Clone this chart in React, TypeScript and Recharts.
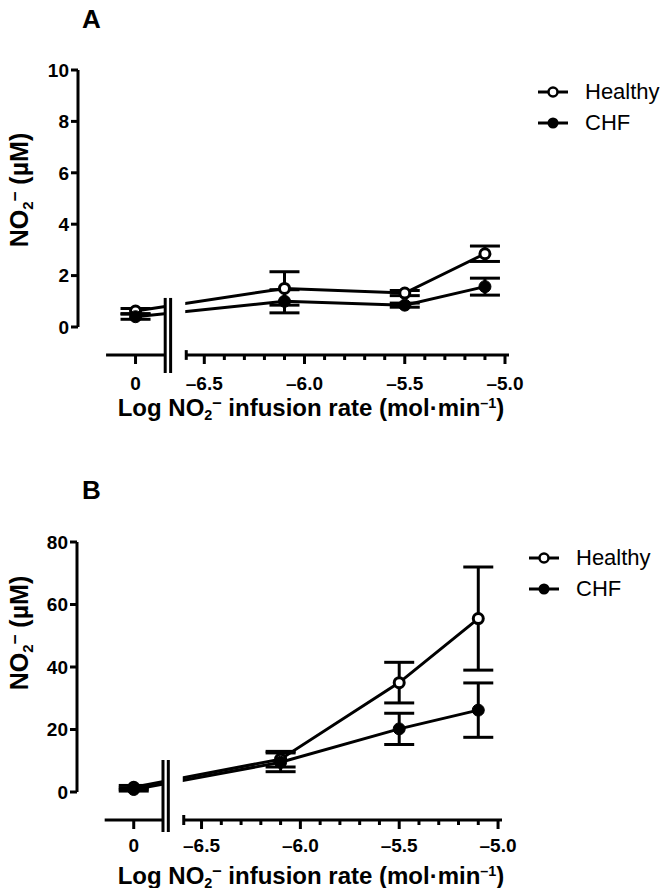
import React from "react";
import { LineChart, Line, XAxis, YAxis, ErrorBar, ReferenceLine, ReferenceArea } from "recharts";

// log NO2- infusion rate (0 = baseline, before infusion)
const DOSES = [0, -6.1, -5.5, -5.1];

const A_HEALTHY = [0.62, 1.5, 1.32, 2.85];
const A_HEALTHY_SEM = [0.1, 0.65, 0.1, 0.3];
const A_CHF = [0.4, 1.0, 0.85, 1.57];
const A_CHF_SEM = [0.1, 0.45, 0.08, 0.33];

const B_HEALTHY = [1.5, 10.5, 35, 55.5];
const B_HEALTHY_SEM = [0.6, 2.5, 6.5, 16.5];
const B_CHF = [0.8, 9.5, 20.2, 26.2];
const B_CHF_SEM = [0.5, 3, 5, 8.7];

const A_Y_TICKS = [0, 2, 4, 6, 8, 10];
const B_Y_TICKS = [0, 20, 40, 60, 80];
const X_MAJOR = [-6.5, -6.0, -5.5, -5.0];
const X_MAJOR_LABELS = ["–6.5", "–6.0", "–5.5", "–5.0"];
const ZERO_LABEL = "0";
const SERIES = ["Healthy", "CHF"];

// broken axis layout (in x-axis units)
const X_MIN = -7.13;
const X_MAX = -4.98;
const ZERO_POS = -6.843;
const LEFT_SEG = [-6.99, -6.695];
const BREAK_X = [-6.695, -6.668];
const RIGHT_START = -6.59;
const MINOR = Array.from({ length: 16 }, (_, i) => +(-6.5 + i * 0.1).toFixed(1));

const FONT = '"Liberation Sans", Arial, Helvetica, sans-serif';
const SW = 3;

const toRows = (h: number[], hs: number[], c: number[], cs: number[]) =>
  DOSES.map((d, i) => ({
    pos: d === 0 ? ZERO_POS : d,
    healthy: h[i],
    healthyErr: hs[i],
    chf: c[i],
    chfErr: cs[i],
  }));

const OpenDot = (p: any) =>
  p.cx == null ? null : <circle key={p.index} cx={p.cx} cy={p.cy} r={5} fill="#fff" stroke="#000" strokeWidth={SW} />;
const FilledDot = (p: any) =>
  p.cx == null ? null : <circle key={p.index} cx={p.cx} cy={p.cy} r={6} fill="#000" stroke="#000" strokeWidth={1} />;

const XTick = (p: any) => {
  const v = p.payload.value;
  const isZero = v === ZERO_POS;
  const mi = X_MAJOR.findIndex(m => Math.abs(m - v) < 1e-6);
  const major = isZero || mi >= 0;
  const label = isZero ? ZERO_LABEL : mi >= 0 ? X_MAJOR_LABELS[mi] : null;
  return (
    <g>
      <line x1={p.x} x2={p.x} y1={p.y} y2={p.y + (major ? 9 : 5)} stroke="#000" strokeWidth={SW} />
      {label && (
        <text x={p.x} y={p.y + p.labelDy} textAnchor="middle" fontFamily={FONT} fontWeight="bold" fontSize={19} fill="#000">
          {label}
        </text>
      )}
    </g>
  );
};

const NO2 = () => (
  <span>
    NO<span style={{ fontSize: "0.6em", verticalAlign: "-0.3em" }}>2</span>
    <span style={{ fontSize: "0.7em", verticalAlign: "0.5em" }}>–</span>
  </span>
);

interface PanelProps {
  top: number;
  height: number;
  letter: string;
  letterTop: number;
  rows: any[];
  yMin: number;
  yMax: number;
  yTicks: number[];
  marginTop: number;
  marginLeft: number;
  marginRight: number;
  marginBottom: number;
  breakY: [number, number];
  capY: [number, number];
  labelDy: number;
  yTitleCenter: number;
  xTitleTop: number;
  legendLeft: number;
  legendTop: number;
}

function Panel(props: PanelProps) {
  const { rows, yMin, yMax } = props;
  const ref = { stroke: "#000", strokeWidth: SW, ifOverflow: "visible" as const };
  return (
    <div style={{ position: "absolute", left: 0, top: props.top, width: 670, height: props.height, fontFamily: FONT, color: "#000" }}>
      <LineChart
        width={670}
        height={props.height}
        data={rows}
        margin={{ top: props.marginTop, left: props.marginLeft, right: props.marginRight, bottom: props.marginBottom }}
      >
        <XAxis
          type="number"
          dataKey="pos"
          domain={[X_MIN, X_MAX]}
          allowDataOverflow
          ticks={[ZERO_POS, ...MINOR]}
          interval={0}
          axisLine={false}
          tickLine={false}
          tickSize={0}
          tickMargin={0}
          height={40}
          tick={(p: any) => <XTick {...p} labelDy={props.labelDy} />}
        />
        <YAxis
          type="number"
          domain={[yMin, yMax]}
          allowDataOverflow
          ticks={props.yTicks}
          interval={0}
          width={50}
          axisLine={false}
          tickLine={{ stroke: "#000", strokeWidth: SW }}
          tickSize={7}
          tickMargin={2}
          tick={{ fill: "#000", fontSize: 19, fontWeight: "bold", fontFamily: FONT }}
        />
        <Line
          dataKey="healthy"
          stroke="#000"
          strokeWidth={SW}
          dot={OpenDot}
          activeDot={false}
          isAnimationActive={false}
        >
          <ErrorBar dataKey="healthyErr" direction="y" width={15} stroke="#000" strokeWidth={SW} />
        </Line>
        <Line
          dataKey="chf"
          stroke="#000"
          strokeWidth={SW}
          dot={FilledDot}
          activeDot={false}
          isAnimationActive={false}
        >
          <ErrorBar dataKey="chfErr" direction="y" width={15} stroke="#000" strokeWidth={SW} />
        </Line>
        <ReferenceArea
          x1={BREAK_X[0]}
          x2={RIGHT_START - 0.005}
          y1={yMin}
          y2={yMax}
          fill="#fff"
          fillOpacity={1}
          stroke="none"
          ifOverflow="visible"
          zIndex={450}
        />
        <ReferenceLine {...ref} zIndex={460} segment={[{ x: X_MIN, y: 0 }, { x: X_MIN, y: yMax }]} />
        <ReferenceLine {...ref} zIndex={460} segment={[{ x: LEFT_SEG[0], y: yMin }, { x: LEFT_SEG[1], y: yMin }]} />
        <ReferenceLine {...ref} zIndex={460} segment={[{ x: RIGHT_START, y: yMin }, { x: X_MAX, y: yMin }]} />
        <ReferenceLine {...ref} zIndex={460} segment={[{ x: RIGHT_START, y: props.capY[0] }, { x: RIGHT_START, y: props.capY[1] }]} />
        {BREAK_X.map(bx => (
          <ReferenceLine key={bx} {...ref} zIndex={460} segment={[{ x: bx, y: props.breakY[0] }, { x: bx, y: props.breakY[1] }]} />
        ))}
      </LineChart>

      <div style={{ position: "absolute", left: 82, top: props.letterTop, fontSize: 26, fontWeight: "bold", lineHeight: 1 }}>
        {props.letter}
      </div>

      <div
        style={{
          position: "absolute",
          left: 20,
          top: props.yTitleCenter,
          transform: "translate(-50%, -50%) rotate(-90deg)",
          whiteSpace: "nowrap",
          fontSize: 25,
          fontWeight: "bold",
          lineHeight: 1,
        }}
      >
        <NO2 /> (µM)
      </div>

      <div
        style={{
          position: "absolute",
          left: 311,
          top: props.xTitleTop,
          transform: "translateX(-50%)",
          whiteSpace: "nowrap",
          fontSize: 24,
          fontWeight: "bold",
          lineHeight: 1,
        }}
      >
        Log <NO2 /> infusion rate (mol·min
        <span style={{ fontSize: "0.6em", verticalAlign: "0.6em" }}>–1</span>)
      </div>

      <div style={{ position: "absolute", left: props.legendLeft, top: props.legendTop, fontSize: 22, lineHeight: "31px" }}>
        {SERIES.map((s, i) => (
          <div key={s} style={{ display: "flex", alignItems: "center", height: 31 }}>
            <svg width={32} height={14} style={{ marginRight: 16 }}>
              <line x1={1} x2={31} y1={7} y2={7} stroke="#000" strokeWidth={3} />
              {i === 0 ? (
                <circle cx={16} cy={7} r={4.5} fill="#fff" stroke="#000" strokeWidth={2.5} />
              ) : (
                <circle cx={16} cy={7} r={5.5} fill="#000" />
              )}
            </svg>
            <span>{s}</span>
          </div>
        ))}
      </div>
    </div>
  );
}

export default function App() {
  const rowsA = toRows(A_HEALTHY, A_HEALTHY_SEM, A_CHF, A_CHF_SEM);
  const rowsB = toRows(B_HEALTHY, B_HEALTHY_SEM, B_CHF, B_CHF_SEM);
  return (
    <div style={{ position: "relative", margin: -8, width: 670, height: 896, background: "#fff", overflow: "hidden" }}>
      <Panel
        top={0}
        height={440}
        letter="A"
        letterTop={6}
        rows={rowsA}
        yMin={-1.09}
        yMax={10}
        yTicks={A_Y_TICKS}
        marginTop={70}
        marginLeft={28}
        marginRight={161}
        marginBottom={45}
        breakY={[1.13, -1.79]}
        capY={[-1.28, -0.9]}
        labelDy={35}
        yTitleCenter={190}
        xTitleTop={395}
        legendLeft={537}
        legendTop={76}
      />
      <Panel
        top={460}
        height={436}
        letter="B"
        letterTop={17}
        rows={rowsB}
        yMin={-8.96}
        yMax={80}
        yTicks={B_Y_TICKS}
        marginTop={82}
        marginLeft={27}
        marginRight={168}
        marginBottom={36}
        breakY={[10.24, -12.8]}
        capY={[-10.56, -7.36]}
        labelDy={32}
        yTitleCenter={173}
        xTitleTop={403}
        legendLeft={528}
        legendTop={82}
      />
    </div>
  );
}
